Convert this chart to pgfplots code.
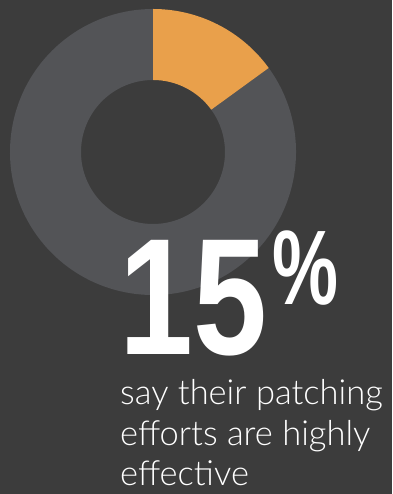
\documentclass[border=0pt]{standalone}
\usepackage{pgfplots}
\pgfplotsset{compat=1.18}
\usepackage{pgfplotstable}
\usetikzlibrary{calc}
\usepackage{fontspec}
\setmainfont{Liberation Sans}
\newfontfamily\lightfont{Lato Light}
\newfontfamily\boldfont{Liberation Sans}[UprightFont={* Bold}]
\definecolor{bg}{HTML}{3C3C3C}
\definecolor{ring}{HTML}{535457}
\definecolor{accent}{HTML}{E9A04B}
\pgfplotstableread{
label value
effective 15
other 85
}\sharetable
\begin{document}
\begin{tikzpicture}
\useasboundingbox (0,0) rectangle (392pt,494pt);
\pgfplotstablegetelem{0}{value}\of\sharetable
\pgfmathsetmacro{\share}{\pgfplotsretval}
\pgfmathsetmacro{\endang}{90-\share*3.6}
\begin{axis}[
  at={(0,0)}, anchor=south west,
  width=392pt, height=494pt, scale only axis,
  xmin=0, xmax=392, ymin=0, ymax=494,
  axis lines=none, clip=false,
  axis background/.style={fill=bg},
]
% donut from the share table
\fill[ring] (axis cs:153,342) ++(\endang:143pt) arc[start angle=\endang, end angle=-270, radius=143pt]
  -- ++(90:-71pt) arc[start angle=-270, end angle=\endang, radius=72pt] -- cycle;
\fill[accent] (axis cs:153,342) ++(90:143pt) arc[start angle=90, end angle=\endang, radius=143pt]
  -- ($(axis cs:153,342)+(\endang:72pt)$) arc[start angle=\endang, end angle=90, radius=72pt] -- cycle;
\node[anchor=base west, inner sep=0pt, text=white] at (axis cs:119,139)
  {\raisebox{0pt}[\height][0pt]{\scalebox{0.80}[1]{\boldfont\fontsize{166}{166}\selectfont 15}}};
\node[anchor=base west, inner sep=0pt, text=white] at (axis cs:272,189)
  {\scalebox{0.70}[1]{\boldfont\fontsize{106}{106}\selectfont\%}};
\node[anchor=base west, inner sep=0pt, text=white, align=left,
  font=\lightfont\fontsize{34.5}{40}\selectfont] at (axis cs:120,9)
  {say their patching\\efforts are highly\\effective};
\end{axis}
\end{tikzpicture}
\end{document}
